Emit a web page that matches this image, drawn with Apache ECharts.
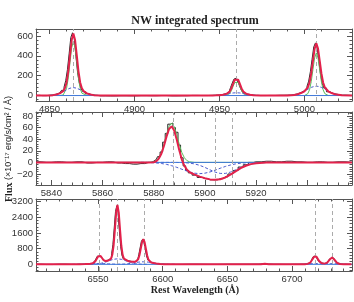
<!DOCTYPE html>
<html><head><meta charset="utf-8">
<script src="https://cdn.jsdelivr.net/npm/echarts@6/dist/echarts.min.js"></script>
<style>html,body{margin:0;padding:0;background:#fff}#c{width:354px;height:302px}</style>
</head><body><div id="c"></div>
<script>
const chartTitle = 'NW integrated spectrum';
const xTitle = 'Rest Wavelength (Å)';
const yTitleBold = 'Flux';
const yTitleRest = ' (×10⁻¹⁷ erg/s/cm² / Å)';

// ---------- Panel 1 : Hbeta + [OIII] ----------
const p1Range = [4842, 5028];
const p1YRange = [-55, 670];
const p1TickLabels = [4850, 4900, 4950, 5000];
const p1Lines = [4864, 4960, 5007];
const p1Wave = [4842,4846,4850,4852,4854,4856,4858,4859,4860,4861,4862,4863,4864,4865,4866,4867,4868,4869,4870,4872,4874,4876,4880,
  4886,4892,4898,4904,4910,4916,4922,4928,4934,4940,
  4946,4948,4950,4952,4954,4955,4956,4957,4958,4959,4960,4961,4962,4963,4964,4965,4966,4968,4970,4974,
  4980,4986,
  4990,4994,4996,4998,5000,5001,5002,5003,5004,5005,5006,5007,5008,5009,5010,5011,5012,5014,5016,5018,5022,5028];
const p1Data = [2,-1,3,6,14,26,52,85,150,260,420,585,632,575,395,230,125,70,40,18,8,2,-3,
  -4,-2,-3,-1,-2,0,-3,-2,1,0,
  2,4,6,10,20,30,48,80,125,165,176,150,110,66,36,20,12,5,2,0,
  1,3,
  4,9,17,30,48,64,92,145,240,365,490,530,478,345,210,120,75,38,20,10,4,1];
const p1Model = [0,0,1,4,11,22,45,73,132,244,405,559,625,559,405,244,132,73,45,22,11,4,1,
  0,0,0,0,0,0,0,0,0,0,
  1,2,4,8,16,24,40,72,117,159,178,159,117,72,40,24,16,8,4,1,
  0,0,
  1,6,13,25,43,57,82,131,222,350,472,525,472,350,222,131,82,43,25,13,2,0];
const p1Narrow = [null,null,null,null,null,0,6,24,74,177,331,481,545,481,331,177,74,24,6,0,null,null,null,
  null,null,null,null,null,null,null,null,null,null,
  null,null,null,0,2,7,20,49,91,132,150,132,91,49,20,7,2,0,null,null,
  null,null,
  null,null,null,null,0,5,19,58,140,261,379,430,379,261,140,58,19,1,0,null,null,null];
const p1Broad = [null,null,2,4,11,22,39,49,58,67,74,78,80,78,74,67,58,49,39,22,11,4,1,
  null,null,null,null,null,null,null,null,null,null,
  1,2,4,8,14,17,20,23,26,27,28,27,26,23,20,17,14,8,4,1,
  null,null,
  1,6,13,25,42,52,63,73,82,89,93,95,93,89,82,73,63,42,25,13,2,0];
const p1ContWave = [4842, 5028];
const p1Cont = [0, 0];

// ---------- Panel 2 : HeI + NaD ----------
const p2Range = [5834, 5957.5];
const p2YRange = [-39, 87];
const p2TickLabels = [5840, 5860, 5880, 5900, 5920];
const p2Lines = [5887.7, 5904.2, 5910.6];
const p2Wave = [5834,5838,5842,5846,5850,5854,5858,5862,5866,5869,5872,5875,
  5878,5880,5881,5882,5883,5884,5885,5886,5887,5888,5889,5890,5891,5892,5893,5894,
  5896,5898,5900,5902,5904,5906,5908,5910,5912,5914,5916,5918,5920,5924,
  5928,5932,5936,5940,5944,5948,5952,5957.5];
const p2Data = [1,0,1,0,1,-1,0,1,-1,-2,-3,-2,
  0,2,5,10,18,35,50,66,68,60,52,30,8,-6,-14,-18,
  -22,-26,-28,-30,-30,-28,-25,-20,-14,-8,-4,0,1,2,
  1,2,1,0,1,0,1,0];
const p2Model = [0,0,0,0,0,0,0,0,0,0,0,0,
  0,0.3,2,6.6,15,28.4,44.5,57.6,62.3,55,39.5,20.9,5,-5.9,-12.8,-16.6,
  -21.2,-24.5,-27.2,-29.3,-30.1,-29.1,-26.0,-21.1,-15.5,-10.0,-5.8,-3.0,-1.3,0,
  0,0,0,0,0,0,0,0];
const p2Narrow = [0,0,0,0,0,0,0,0,0,0,0,0,
  0,1,3,8,17,31,48,62,68,62,48,31,17,8,3,1,
  0,0,0,0,0,0,0,0,0,0,0,0,0,0,
  0,0,0,0,0,0,0,0];
const p2AbsA = [null,null,null,null,null,null,null,null,null,null,null,0,
  -0.2,-0.7,-1.0,-1.4,-1.9,-2.6,-3.4,-4.5,-5.7,-7.0,-8.5,-10.1,-11.8,-13.4,-15.0,-16.5,
  -18.6,-19.4,-18.6,-16.5,-13.4,-10.1,-7.0,-4.5,-2.6,-1.4,-0.7,-0.4,-0.2,0,
  null,null,null,null,null,null,null,null];
const p2AbsB = [null,null,null,null,null,null,null,null,null,null,null,0,
  0,0,0,0,0,0,0,0,0,0,-0.1,-0.2,-0.3,-0.5,-0.8,-1.2,
  -2.6,-5.1,-8.6,-12.8,-16.7,-19.0,-19.0,-16.7,-12.8,-8.6,-5.1,-2.6,-1.2,-0.2,
  0,null,null,null,null,null,null,null];
const p2ContWave = [5834, 5957.5];
const p2Cont = [0, 0];

// ---------- Panel 3 : Halpha + [NII] + [SII] ----------
const p3Range = [6502, 6746.4];
const p3YRange = [-340, 3340];
const p3TickLabels = [6550, 6600, 6650, 6700];
const p3Lines = [6551, 6565, 6585.5, 6718, 6731];
const p3Wave = [6502,6510,6520,6530,6536,6540,6542,6544,6545,6546,6547,6548,6549,6550,6551,6552,6553,6554,6555,6556,
  6557,6558,6559,6560,6561,6562,6563,6564,6565,6566,6567,6568,6569,6570,6571,6573,6575,6577,6579,
  6580,6581,6582,6583,6584,6585,6586,6587,6588,6589,6590,6591,6593,6595,6598,6601,6605,6610,
  6620,6635,6650,6665,6672,6676,6679,6682,6686,6695,6702,
  6706,6708,6710,6712,6713,6714,6715,6716,6717,6718,6719,6720,6721,6722,6723,6724,6725,6726,6727,6728,6729,6730,6731,6732,6733,6734,6735,6736,6737,6738,6740,6743,6746];
const p3Data = [5,-10,8,-5,10,12,25,28,45,60,100,180,300,420,450,410,310,225,175,160,
  185,205,240,320,540,1010,1850,2700,2990,2580,1700,900,460,280,215,170,150,140,145,
  180,270,490,830,1170,1290,1110,760,430,225,130,95,62,40,18,6,0,-5,
  4,-3,2,3,6,15,35,12,3,-2,3,
  5,8,14,28,45,90,170,285,395,440,380,265,158,85,55,42,40,50,80,145,240,330,362,310,218,125,64,34,22,16,8,3,1];
const p3Model = [0,0,0,1,5,14,21,31,39,54,90,165,283,404,463,425,327,232,180,169,
  180,199,228,295,488,954,1761,2642,3038,2642,1759,950,483,289,223,176,148,132,136,
  165,256,464,796,1138,1285,1134,788,451,236,137,98,68,47,23,10,2,0,
  0,0,0,0,0,8,30,8,0,0,0,
  2,5,11,24,41,82,160,274,383,431,385,277,165,89,51,38,37,46,76,139,230,319,356,317,226,133,68,35,21,14,7,2,0];
const p3BroadHa = [null,null,null,null,null,1,1,3,5,7,10,15,20,28,38,50,64,82,101,122,
  146,170,194,217,238,255,269,277,280,277,269,255,238,217,194,146,101,64,38,
  28,20,15,10,7,5,3,2,1,1,null,null,null,null,null,null,null,null,
  null,null,null,null,null,null,null,null,null,null,null,
  null,null,null,null,null,null,null,null,null,null,null,null,null,null,null,null,null,null,null,null,null,null,null,null,null,null,null,null,null,null,null,null,null];
const p3BroadOther = [null,null,null,0,5,13,20,27,31,35,38,41,43,45,45,45,43,41,38,35,
  31,27,23,20,17,14,11,9,8,8,8,9,11,14,18,30,47,68,90,
  101,110,119,125,129,130,129,125,119,110,101,90,68,47,23,10,2,0,
  null,null,null,null,null,null,null,null,null,null,null,
  2,5,11,20,24,29,34,38,40,41,41,40,38,36,34,33,32,32,33,35,36,37,36,35,33,29,25,21,17,13,7,2,0];
const p3ContWave = [6502, 6746.4];
const p3Cont = [0, 0];

// ---------- build ----------
const pairs = (w, v) => w.map((x, i) => [x, v[i] === null ? '-' : v[i]]);
const C = { frame:'#555', label:'#333', data:'#262626', model:'#e3214b', narrow:'#5cbf5c', broad:'#4a5ccf', cont:'#3f78d8', vline:'#ababab' };

const panels = [
  { xr:p1Range, xs:50, xl:p1TickLabels, yr:p1YRange, ys:200, lines:p1Lines, wave:p1Wave, data:p1Data, model:p1Model,
    narrow:[p1Narrow], broad:[p1Broad], cont:[p1ContWave, p1Cont] },
  { xr:p2Range, xs:20, xl:p2TickLabels, yr:p2YRange, ys:20, lines:p2Lines, wave:p2Wave, data:p2Data, model:p2Model,
    narrow:[p2Narrow], broad:[p2AbsA, p2AbsB], cont:[p2ContWave, p2Cont] },
  { xr:p3Range, xs:50, xl:p3TickLabels, yr:p3YRange, ys:800, lines:p3Lines, wave:p3Wave, data:p3Data, model:p3Model,
    narrow:[], broad:[p3BroadHa, p3BroadOther], cont:[p3ContWave, p3Cont] }
];
const gridPos = [ {top:29, height:72}, {top:112, height:73}, {top:199, height:72} ];

const labelStyle = { fontSize:9.5, color:C.label, fontFamily:'Liberation Sans, Arial, sans-serif' };
function axis(gi, r, step, pos, showLabel, allowed) {
  return {
    type:'value', gridIndex:gi, position:pos, min:r[0], max:r[1],
    minInterval:step, maxInterval:step, splitNumber:4,
    axisLine:{ show:true, onZero:false, lineStyle:{ color:C.frame, width:1 } },
    axisTick:{ show:true, inside:true, length:5, lineStyle:{ color:C.frame, width:1 } },
    minorTick:{ show:true, splitNumber:5, length:2.5, lineStyle:{ color:C.frame, width:1 } },
    splitLine:{ show:false },
    axisLabel:Object.assign({ show:showLabel, showMinLabel:false, showMaxLabel:false, margin:3,
      formatter: v => (allowed && allowed.indexOf(v) < 0) ? '' : String(v).replace('-', '\u2212') }, labelStyle)
  };
}

const grid = [], xAxis = [], yAxis = [], series = [];
panels.forEach((p, i) => {
  grid.push({ left:36, right:2, top:gridPos[i].top, height:gridPos[i].height, containLabel:false });
  const xb = xAxis.length;
  xAxis.push(axis(i, p.xr, p.xs, 'bottom', true, p.xl));
  xAxis.push(axis(i, p.xr, p.xs, 'top', false));
  const yb = yAxis.length;
  yAxis.push(axis(i, p.yr, p.ys, 'left', true));
  yAxis.push(axis(i, p.yr, p.ys, 'right', false));
  const base = { xAxisIndex:xb, yAxisIndex:yb, type:'line', symbol:'none', silent:true, animation:false, clip:true };
  series.push(Object.assign({}, base, { name:'lines'+i, data:[], z:1,
    markLine:{ silent:true, symbol:['none','none'], label:{show:false}, animation:false,
      lineStyle:{ color:C.vline, type:[4,3], width:1 }, data:p.lines.map(x => ({ xAxis:x })) } }));
  series.push(Object.assign({}, base, { name:'data'+i, data:pairs(p.wave, p.data), step:'middle', z:2,
    lineStyle:{ color:C.data, width:1 } }));
  p.narrow.forEach((n, k) => series.push(Object.assign({}, base, { name:'narrow'+i+k, data:pairs(p.wave, n), z:3,
    lineStyle:{ color:C.narrow, width:1 } })));
  p.broad.forEach((b, k) => series.push(Object.assign({}, base, { name:'broad'+i+k, data:pairs(p.wave, b), z:4,
    lineStyle:{ color:C.broad, width:1, type:[3,2] } })));
  series.push(Object.assign({}, base, { name:'cont'+i, data:pairs(p.cont[0], p.cont[1]), z:4,
    lineStyle:{ color:C.cont, width:1 } }));
  series.push(Object.assign({}, base, { name:'model'+i, data:pairs(p.wave, p.model), z:5,
    lineStyle:{ color:C.model, width:2 } }));
});

const chart = echarts.init(document.getElementById('c'), null, { renderer:'canvas' });
chart.setOption({
  animation:false,
  backgroundColor:'#ffffff',
  grid, xAxis, yAxis, series,
  graphic:[
    { type:'text', x:195, y:21, style:{ text:chartTitle, fill:'#222', textAlign:'center', textVerticalAlign:'middle',
      font:'bold 12px "Liberation Serif", serif' } },
    { type:'text', x:195, y:290, style:{ text:xTitle, fill:'#222', textAlign:'center', textVerticalAlign:'middle',
      font:'bold 10px "Liberation Serif", serif' } },
    { type:'text', x:9, y:149, rotation:Math.PI/2, style:{
      text:'{b|' + yTitleBold + '}{r|' + yTitleRest + '}', fill:'#222', textAlign:'center', textVerticalAlign:'middle',
      rich:{ b:{ fontFamily:'Liberation Serif', fontWeight:'bold', fontSize:10, fill:'#222' },
             r:{ fontFamily:'Liberation Sans', fontSize:9, fill:'#222' } } } }
  ]
});
</script>
</body></html>
